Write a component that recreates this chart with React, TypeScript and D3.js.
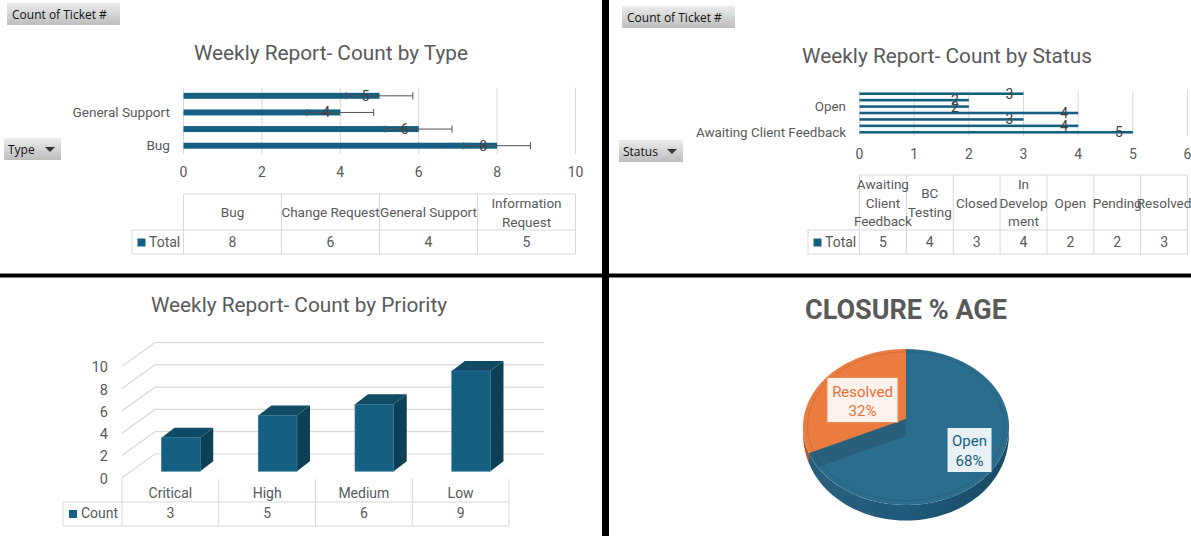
import React from "react";
import * as d3 from "d3";

const typeCategories = ["Bug", "Change Request", "General Support", "Information Request"];
const typeValues = [8, 6, 4, 5];
const typeTableLabels = [["Bug"], ["Change Request"], ["General Support"], ["Information", "Request"]];
const typeAxisLabels = ["Bug", "General Support"];
const typeTicks = [0, 2, 4, 6, 8, 10];
const errorSize = 0.85;

const statusCategories = ["Awaiting Client Feedback", "BC Testing", "Closed", "In Development", "Open", "Pending", "Resolved"];
const statusValues = [5, 4, 3, 4, 2, 2, 3];
const statusTableLabels = [["Awaiting", "Client", "Feedback"], ["BC", "Testing"], ["Closed"], ["In", "Develop", "ment"], ["Open"], ["Pending"], ["Resolved"]];
const statusAxisLabels = ["Awaiting Client Feedback", "Open"];
const statusTicks = [0, 1, 2, 3, 4, 5, 6];

const priorityCategories = ["Critical", "High", "Medium", "Low"];
const priorityValues = [3, 5, 6, 9];
const priorityTicks = [0, 2, 4, 6, 8, 10];

const closureLabels = ["Resolved", "Open"];
const closureValues = [32, 68];

const BLUE = "#156082";
const ORANGE = "#E97132";
const GREY = "#595959";
const GRID = "#d9d9d9";
const FONT = "Roboto, sans-serif";

function Button({ x, y, w, label, arrow }: { x: number; y: number; w: number; label: string; arrow?: boolean }) {
  return (
    <g>
      <rect x={x} y={y} width={w} height={22} fill="url(#btn)" />
      <text x={x + (arrow ? 4 : 5)} y={y + 15.5} fontFamily="'Open Sans', sans-serif" fontSize={12} fill="#111">{label}</text>
      {arrow && <path d={`M${x + w - 16},${y + 9}h10l-5,5z`} fill="#333" />}
    </g>
  );
}

function HBarPanel(p: {
  cats: string[]; vals: number[]; axisLabels: string[]; ticks: number[]; tableLabels: string[][];
  x0: number; x1: number; yTop: number; yBottom: number; padI: number; padO: number;
  tickY: number; tableTop: number; tableMid: number; tableBottom: number; legendX: number;
  err?: number; lineH: number; labelOffset: number; axisFont: number;
}) {
  const x = d3.scaleLinear().domain([0, p.ticks[p.ticks.length - 1]]).range([p.x0, p.x1]);
  const y = d3.scaleBand<string>().domain(p.cats).range([p.yBottom, p.yTop]).paddingInner(p.padI).paddingOuter(p.padO);
  const col = d3.scaleBand<string>().domain(p.cats).range([p.x0, p.x1]);
  const bw = y.bandwidth();
  return (
    <g fontFamily={FONT} fill={GREY}>
      {p.ticks.map((t) => (
        <g key={t}>
          <line x1={x(t)} x2={x(t)} y1={p.yTop} y2={p.yBottom} stroke={GRID} />
          <text x={x(t)} y={p.tickY} textAnchor="middle" fontSize={14}>{t}</text>
        </g>
      ))}
      {p.cats.map((c, i) => {
        const cy = y(c)! + bw / 2;
        const end = x(p.vals[i]);
        return (
          <g key={c}>
            <rect x={p.x0} y={y(c)} width={end - p.x0} height={bw} fill={BLUE} />
            {p.err != null && (
              <path
                d={`M${x(p.vals[i] - p.err)},${cy}H${x(p.vals[i] + p.err)}M${x(p.vals[i] - p.err)},${cy - 3.5}v7M${x(p.vals[i] + p.err)},${cy - 3.5}v7`}
                stroke="#505050" fill="none"
              />
            )}
            <text x={end - p.labelOffset} y={cy + 5} textAnchor="middle" fontSize={14} fill="#404040">{p.vals[i]}</text>
            {p.axisLabels.includes(c) && (
              <text x={p.x0 - 13.5} y={cy + 4.5} textAnchor="end" fontSize={p.axisFont}>{c}</text>
            )}
          </g>
        );
      })}
      <g fill="none" stroke={GRID}>
        <path d={`M${p.x0},${p.tableTop}H${p.x1}M${p.legendX},${p.tableMid}H${p.x1}M${p.legendX},${p.tableBottom}H${p.x1}M${p.legendX},${p.tableMid}V${p.tableBottom}`} />
        {p.cats.map((c) => (
          <line key={c} x1={col(c)} x2={col(c)} y1={p.tableTop} y2={p.tableBottom} />
        ))}
        <line x1={p.x1} x2={p.x1} y1={p.tableTop} y2={p.tableBottom} />
      </g>
      <rect x={p.legendX + 5.5} y={p.tableMid + 8.5} width={8} height={8} fill={BLUE} />
      <text x={p.legendX + 17} y={p.tableMid + 16.5} fontSize={14}>Total</text>
      {p.cats.map((c, i) => {
        const mid = col(c)! + col.bandwidth() / 2;
        const ls = p.tableLabels[i];
        const cy = (p.tableTop + p.tableMid) / 2;
        return (
          <g key={c} textAnchor="middle">
            {ls.map((l, j) => (
              <text key={l} x={mid} y={cy + 5 + (j - (ls.length - 1) / 2) * p.lineH} fontSize={13.5}>{l}</text>
            ))}
            <text x={mid} y={p.tableBottom - 7} fontSize={14}>{p.vals[i]}</text>
          </g>
        );
      })}
    </g>
  );
}

function Priority() {
  const frontX0 = 122, right = 509, depthX = 33, depthY = 23.7;
  const yFront = d3.scaleLinear().domain([0, 10]).range([477.7, 366.3]);
  const col = d3.scaleBand<string>().domain(priorityCategories).range([frontX0, right]);
  const bw = col.bandwidth() * 0.4;
  const shiftX = 10.5;
  const sink = 6.5;
  const dx = 13, dy = 10;
  return (
    <g fontFamily={FONT} fill={GREY}>
      {priorityTicks.map((t) => {
        const f = yFront(t);
        return (
          <g key={t}>
            <path d={`M${frontX0},${f}L${frontX0 + depthX},${f - depthY}H544`} fill="none" stroke={GRID} strokeWidth={1.2} />
            <text x={108} y={f + 6} textAnchor="end" fontSize={14.5}>{t}</text>
          </g>
        );
      })}
      {priorityCategories.map((c, i) => {
        const l = col(c)! + col.bandwidth() / 2 - bw / 2 + shiftX;
        const r = l + bw;
        const top = yFront(priorityValues[i]) - sink;
        const bot = yFront(0) - sink;
        return (
          <g key={c}>
            <path d={`M${r},${top}l${dx},${-dy}V${bot - dy}L${r},${bot}z`} fill="#0d3f55" />
            <path d={`M${l},${top}l${dx},${-dy}H${r + dx}L${r},${top}z`} fill="#114a64" />
            <rect x={l} y={top} width={bw} height={bot - top} fill={BLUE} stroke="#2f7592" strokeWidth={0.7} />
          </g>
        );
      })}
      <g fill="none" stroke={GRID}>
        <path d={`M63,502H${right}M63,526H${right}M63,502V526`} />
        {priorityCategories.map((c) => (
          <line key={c} x1={col(c)} x2={col(c)} y1={479} y2={526} />
        ))}
        <line x1={right} x2={right} y1={479} y2={526} />
      </g>
      <rect x={69} y={510} width={8} height={8} fill={BLUE} />
      <text x={81} y={518} fontSize={14}>Count</text>
      {priorityCategories.map((c, i) => {
        const mid = col(c)! + col.bandwidth() / 2;
        return (
          <g key={c} textAnchor="middle">
            <text x={mid} y={498} fontSize={14}>{c}</text>
            <text x={mid} y={518} fontSize={14}>{priorityValues[i]}</text>
          </g>
        );
      })}
    </g>
  );
}

function Closure() {
  const cx = 906, cy = 419, R = 102.5, k = -0.1026, yScale = 77.2, wallDepth = 15.5;
  const project = (a: number, r = 1): [number, number] => {
    const X = Math.sin(a) * r, Y = -Math.cos(a) * r;
    const w = 1 + k * Y;
    return [cx + (R * X) / w, cy + (yScale * Y) / w];
  };
  const arcs = d3.pie<number>().sort(null).startAngle(-(closureValues[0] / 100) * 2 * Math.PI).endAngle(2 * Math.PI - (closureValues[0] / 100) * 2 * Math.PI)(closureValues);
  const line = d3.line();
  const sample = (a0: number, a1: number, r = 1) => d3.range(0, 61).map((i) => project(a0 + ((a1 - a0) * i) / 60, r));
  const orange = arcs[0];
  const blue = arcs[1];
  const apex: [number, number] = [cx, cy];
  const edge = project(orange.startAngle);
  const sidePath = (a0: number, a1: number) => {
    const n = 60;
    const angles = d3.range(0, n + 1).map((i) => a0 + ((a1 - a0) * i) / n);
    const top = angles.map((a) => project(a));
    const bottom = angles.map((a) => {
      const [x, y] = project(a);
      const depth = wallDepth * Math.sqrt(Math.max(0, -Math.cos(a)));
      return [x, y + depth] as [number, number];
    }).reverse();
    return line([...top, ...bottom]) + "Z";
  };
  const front0 = Math.PI / 2, front1 = (3 * Math.PI) / 2;
  const oStart = orange.startAngle + 2 * Math.PI;
  return (
    <g>
      <path d={sidePath(front0, oStart)} fill="url(#pieSide)" />
      <path d={sidePath(oStart, front1)} fill="#b05a2a" />
      <path d={line(sample(blue.startAngle, blue.endAngle))! + "Z"} fill="#2b6d8d" />
      <path d={line([apex, ...sample(orange.startAngle, orange.endAngle)])! + "Z"} fill="#EA7C40" />
      <path d={line([apex, edge, [edge[0] + 9, edge[1] + 14], [cx, cy + 17]])! + "Z"} fill="#2a5f7c" />
      <path d={line(sample(0, 2 * Math.PI, 0.955))! + "Z"} fill="none" stroke="#000" strokeOpacity={0.1} />
      <g fontFamily={FONT} fontSize={15} textAnchor="middle">
        <rect x={827} y={377.5} width={71} height={45} fill="#fff" fillOpacity={0.9} stroke="#EE8A55" />
        <text x={862.5} y={397} fill={ORANGE}>{closureLabels[0]}</text>
        <text x={862.5} y={416} fill={ORANGE}>{closureValues[0]}%</text>
        <rect x={947} y={427.5} width={45} height={45} fill="#fff" fillOpacity={0.9} stroke="#2b6d8d" />
        <text x={969.5} y={446} fill={BLUE}>{closureLabels[1]}</text>
        <text x={969.5} y={466} fill={BLUE}>{closureValues[1]}%</text>
      </g>
    </g>
  );
}

export default function App() {
  return (
    <svg width={1191} height={536} viewBox="0 0 1191 536" style={{ position: "absolute", left: 0, top: 0, background: "#fff" }}>
      <defs>
        <linearGradient id="btn" x1="0" x2="0" y1="0" y2="1">
          <stop offset="0" stopColor="#ececec" />
          <stop offset="1" stopColor="#bdbdbd" />
        </linearGradient>
        <linearGradient id="pieSide" x1="0" x2="1" y1="0" y2="0">
          <stop offset="0" stopColor="#2a5f7c" />
          <stop offset="0.5" stopColor="#1f5a7a" />
          <stop offset="1" stopColor="#174a63" />
        </linearGradient>
      </defs>

      <Button x={7} y={3} w={113} label="Count  of Ticket  #" />
      <Button x={4} y={138} w={57} label="Type" arrow />
      <Button x={622} y={6} w={113} label="Count  of Ticket  #" />
      <Button x={619} y={140} w={64} label="Status" arrow />

      <g fontFamily={FONT} fill={GREY} textAnchor="middle">
        <text x={331} y={60} fontSize={20.8}>Weekly Report- Count by Type</text>
        <text x={947} y={63} fontSize={20.8}>Weekly Report- Count by Status</text>
        <text x={299} y={312} fontSize={20.8}>Weekly Report- Count by Priority</text>
        <text x={906} y={319} fontSize={27} fontWeight={700}>CLOSURE % AGE</text>
      </g>

      <HBarPanel cats={typeCategories} vals={typeValues} axisLabels={typeAxisLabels} ticks={typeTicks} tableLabels={typeTableLabels}
        x0={183.5} x1={575.5} yTop={87.5} yBottom={154} padI={0.64} padO={0.32} tickY={177}
        tableTop={194} tableMid={230} tableBottom={254} legendX={132} err={errorSize} lineH={19} labelOffset={14} axisFont={13.6} />
      <HBarPanel cats={statusCategories} vals={statusValues} axisLabels={statusAxisLabels} ticks={statusTicks} tableLabels={statusTableLabels}
        x0={859.5} x1={1187.5} yTop={90.5} yBottom={135.5} padI={0.6} padO={0.3} tickY={159}
        tableTop={175} tableMid={230} tableBottom={254} legendX={808} lineH={18.5} labelOffset={14} axisFont={13.4} />

      <Priority />
      <Closure />

      <g fill="#000">
        <rect x={602} y={0} width={7} height={536} />
        <rect x={0} y={273.5} width={1191} height={4} />
      </g>
    </svg>
  );
}
